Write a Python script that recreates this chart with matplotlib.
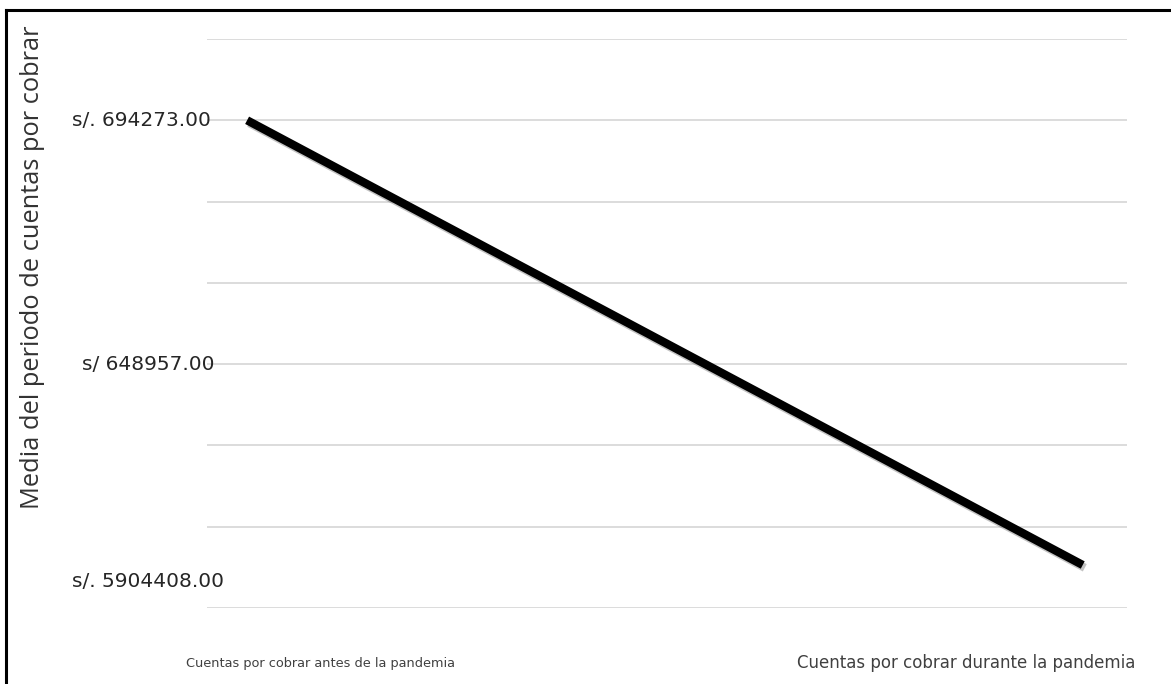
"""Media del periodo de cuentas por cobrar: antes vs durante la pandemia."""

import matplotlib
matplotlib.use("Agg")
import matplotlib.pyplot as plt
import matplotlib.patheffects as pe
from matplotlib.lines import Line2D
from matplotlib.transforms import blended_transform_factory

# data
categories = ["Cuentas por cobrar antes de la pandemia",
              "Cuentas por cobrar durante la pandemia"]
media = [694273.00, 611630.00]

# value labels shown on the y side, with the level where each one sits
y_label_text = ["s/. 694273.00", "s/ 648957.00", "s/. 5904408.00"]
y_label_level = [694273.00, 648957.00, 608475.00]

# gridline spacing follows the two labelled levels (3 bands apart)
step = (y_label_level[0] - y_label_level[1]) / 3
base = y_label_level[0] - 6 * step
grid_levels = [base + k * step for k in range(8)]

fig = plt.figure(figsize=(11.71, 6.84), dpi=100)
ax = fig.add_axes([207 / 1171, 1 - 608 / 684, 920 / 1171, 569 / 684])

for g in grid_levels:
    ax.axhline(g, color="#d9d9d9", lw=1.3, zorder=0)

x = list(range(len(categories)))
ax.plot(x, media, color="black", lw=6, solid_capstyle="butt",
        path_effects=[pe.SimpleLineShadow(offset=(1.5, -2), shadow_color="#555555", alpha=0.35),
                      pe.Normal()], zorder=3)

ax.set_xlim(-0.048, 1.053)
ax.set_ylim(grid_levels[0], grid_levels[-1])
ax.set_xticks([])
ax.set_yticks([])
for s in ax.spines.values():
    s.set_visible(False)

# y-side labels: x in figure space, y in data space
tr = blended_transform_factory(fig.transFigure, ax.transData)
label_x = [72, 82, 72]
for txt, lvl, lx in zip(y_label_text, y_label_level, label_x):
    ax.text(lx / 1171, lvl, txt, transform=tr, ha="left", va="center",
            fontsize=14.5, color="#262626", family="DejaVu Sans")

# category captions under the plot
fig.text(321 / 1171, 1 - 663 / 684, categories[0], ha="center", va="center",
         fontsize=9.3, color="#404040")
fig.text(966 / 1171, 1 - 663 / 684, categories[1], ha="center", va="center",
         fontsize=12, color="#404040")

fig.text(33 / 1171, 1 - 267 / 684, "Media del periodo de cuentas por cobrar",
         rotation=90, ha="center", va="center", fontsize=18.3,
         family=["Open Sans", "DejaVu Sans"], color="#333333")

# outer frame (left and top edges)
fig.add_artist(Line2D([6 / 1171, 6 / 1171], [0, 1 - 10 / 684], transform=fig.transFigure,
                      color="black", lw=2.2))
fig.add_artist(Line2D([6 / 1171, 1], [1 - 10 / 684, 1 - 10 / 684], transform=fig.transFigure,
                      color="black", lw=2.2))

fig.savefig("out.png", dpi=100, facecolor="white")
